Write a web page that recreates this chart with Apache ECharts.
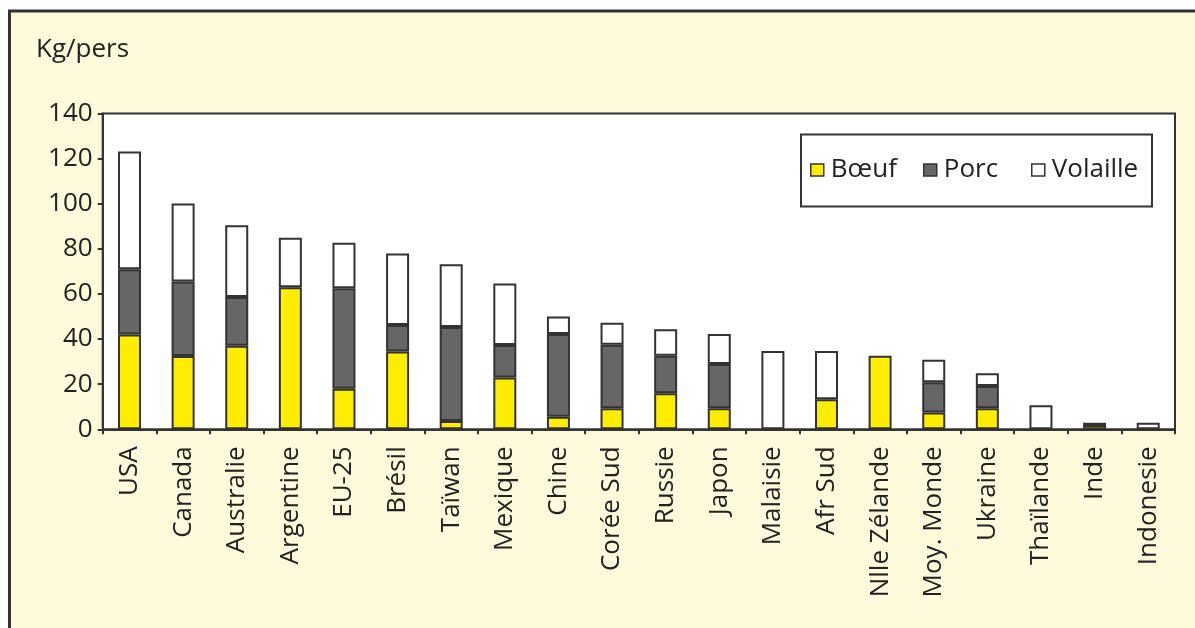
<!DOCTYPE html>
<html><head><meta charset="utf-8">
<script src="https://cdn.jsdelivr.net/npm/echarts@6/dist/echarts.min.js"></script>
<style>html,body{margin:0;padding:0;background:#fff}#c{width:1195px;height:628px}</style>
</head><body><div id="c"></div>
<script>
const categories = ["USA","Canada","Australie","Argentine","EU-25","Brésil","Taïwan","Mexique","Chine","Corée Sud","Russie","Japon","Malaisie","Afr Sud","Nlle Zélande","Moy. Monde","Ukraine","Thaïlande","Inde","Indonesie"];
const boeuf    = [42, 32.5, 37, 63, 18, 34.5, 3.7, 23, 5.6, 9.3, 16, 9.3, null, 13.3, 32.6, 7.4, 9.3, null, 1.9, null];
const porc     = [29, 33, 21.7, null, 44.5, 11.7, 41.6, 14.4, 36.6, 28.2, 16.6, 19.6, null, null, null, 13.5, 9.9, null, 1.0, null];
const volaille = [52.2, 34.6, 31.8, 21.9, 20.2, 31.7, 27.9, 27.2, 7.8, 9.7, 11.7, 13.3, 34.7, 21.4, null, 9.9, 5.7, 10.7, null, 2.9];
const yTicks = [0, 20, 40, 60, 80, 100, 120, 140];
const seriesNames = ["Bœuf", "Porc", "Volaille"];
const seriesColors = ["#ffed00", "#666666", "#ffffff"];

const FONT = "Open Sans";
const FS = 26;
const TXT = "#222222";
const EDGE = "#333333";
const chart = echarts.init(document.getElementById('c'), null, {renderer: 'canvas'});
const dataSets = [boeuf, porc, volaille];
const legendX = [810, 923, 1031];
const option = {
  animation: false,
  backgroundColor: '#ffffff',
  graphic: [
    {type: 'rect', z: -10, shape: {x: 9.5, y: 11, width: 1300, height: 700},
     style: {fill: '#fefadb', stroke: '#333333', lineWidth: 3}},
    {type: 'rect', z: 1, shape: {x: 801, y: 134.5, width: 351, height: 72},
     style: {fill: '#ffffff', stroke: '#333333', lineWidth: 2}}
  ],
  title: {text: 'Kg/pers', left: 36, top: 37, padding: 0,
    textStyle: {fontFamily: FONT, fontSize: FS, fontWeight: 500, color: TXT}},
  legend: seriesNames.map((n, i) => ({
    data: [n], left: legendX[i], top: 157, padding: 0, z: 5,
    itemWidth: 13, itemHeight: 12, itemGap: 0,
    icon: 'rect',
    itemStyle: {borderColor: EDGE, borderWidth: 1.5},
    textStyle: {fontFamily: FONT, fontSize: FS, fontWeight: 500, color: TXT, padding: [0,0,0,2]}
  })),
  grid: {left: 102.7, right: 20, top: 113.5, bottom: 198.7, show: true,
    backgroundColor: '#ffffff', borderColor: EDGE, borderWidth: 2},
  xAxis: {
    type: 'category', data: categories,
    axisLine: {lineStyle: {color: EDGE, width: 2}},
    axisTick: {show: true, length: 5, lineStyle: {color: EDGE, width: 2}},
    axisLabel: {rotate: 90, interval: 0, margin: 17, fontFamily: FONT, fontSize: FS, fontWeight: 500, color: TXT}
  },
  yAxis: {
    type: 'value', min: yTicks[0], max: yTicks[yTicks.length-1], interval: yTicks[1]-yTicks[0],
    splitLine: {show: false},
    axisLine: {show: true, lineStyle: {color: EDGE, width: 2}},
    axisTick: {show: true, length: 5, lineStyle: {color: EDGE, width: 2}},
    axisLabel: {margin: 10, fontFamily: FONT, fontSize: FS, fontWeight: 500, color: TXT}
  },
  series: seriesNames.map((n, i) => ({
    name: n, type: 'bar', stack: 'total', data: dataSets[i], barWidth: 23,
    itemStyle: {color: seriesColors[i], borderColor: EDGE, borderWidth: 2}
  }))
};
chart.setOption(option);
</script></body></html>
